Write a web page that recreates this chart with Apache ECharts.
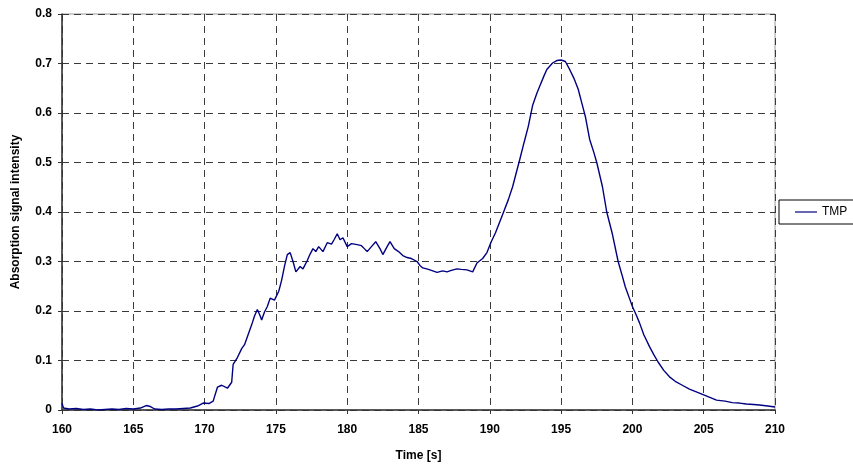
<!DOCTYPE html>
<html>
<head>
<meta charset="utf-8">
<script src="https://cdn.jsdelivr.net/npm/echarts@6/dist/echarts.min.js"></script>
<style>html,body{margin:0;padding:0;background:#fff;}#c{width:853px;height:466px;}</style>
</head>
<body>
<div id="c"></div>
<script>
var seriesName = 'TMP';
var xTicks = [160, 165, 170, 175, 180, 185, 190, 195, 200, 205, 210];
var yTicks = [0, 0.1, 0.2, 0.3, 0.4, 0.5, 0.6, 0.7, 0.8];
var times = [160.0,160.1,160.5,161.0,161.5,162.0,162.5,163.0,163.5,164.0,164.5,165.0,165.5,165.9,166.2,166.5,167.0,167.5,168.0,168.5,169.0,169.5,169.9,170.3,170.6,170.9,171.2,171.6,171.9,172.0,172.3,172.6,172.8,173.0,173.3,173.5,173.7,173.9,174.0,174.2,174.4,174.6,174.9,175.2,175.4,175.6,175.8,176.0,176.2,176.4,176.7,176.9,177.2,177.4,177.6,177.8,178.0,178.3,178.6,178.9,179.1,179.3,179.5,179.7,180.0,180.3,180.7,181.0,181.2,181.4,181.7,182.0,182.3,182.5,182.8,183.0,183.3,183.6,183.9,184.2,184.5,184.9,185.1,185.3,185.7,186.0,186.3,186.7,187.0,187.3,187.7,188.0,188.4,188.8,189.1,189.5,189.8,190.1,190.4,190.9,191.3,191.6,192.1,192.4,192.7,193.0,193.3,193.5,193.8,194.0,194.4,194.7,195.0,195.3,195.6,195.9,196.2,196.5,196.7,197.0,197.3,197.5,197.9,198.2,198.6,199.0,199.3,199.5,199.8,200.0,200.3,200.5,200.8,201.2,201.5,201.8,202.2,202.6,203.0,203.5,204.0,204.7,205.3,205.9,206.5,207.0,207.5,208.0,208.5,208.9,209.5,210.0];
var values = [0.014,0.004,0.002,0.003,0.001,0.002,0.000,0.001,0.002,0.001,0.003,0.002,0.004,0.009,0.007,0.002,0.001,0.002,0.002,0.003,0.004,0.008,0.014,0.013,0.018,0.046,0.050,0.044,0.056,0.092,0.106,0.124,0.132,0.148,0.172,0.190,0.203,0.190,0.182,0.198,0.209,0.226,0.222,0.240,0.262,0.290,0.314,0.318,0.300,0.279,0.290,0.285,0.302,0.315,0.326,0.320,0.330,0.320,0.338,0.335,0.345,0.356,0.344,0.348,0.330,0.336,0.334,0.332,0.326,0.320,0.330,0.340,0.326,0.314,0.330,0.340,0.326,0.320,0.312,0.308,0.306,0.300,0.292,0.287,0.284,0.281,0.278,0.281,0.279,0.282,0.285,0.284,0.283,0.279,0.297,0.306,0.318,0.340,0.358,0.395,0.425,0.451,0.506,0.540,0.573,0.615,0.640,0.654,0.675,0.688,0.701,0.706,0.707,0.704,0.688,0.670,0.648,0.615,0.593,0.547,0.520,0.500,0.451,0.400,0.355,0.300,0.270,0.249,0.225,0.209,0.190,0.176,0.152,0.128,0.112,0.097,0.080,0.067,0.058,0.050,0.042,0.034,0.027,0.020,0.018,0.015,0.014,0.012,0.011,0.010,0.008,0.006];

var data = times.map(function(t, i){ return [t, values[i]]; });
var chart = echarts.init(document.getElementById('c'), null, {renderer: 'canvas'});
var font = 'Liberation Sans, Arial, sans-serif';
chart.setOption({
  animation: false,
  backgroundColor: '#fff',
  grid: {left: 62, right: 78, top: 14, bottom: 56, show: true, borderColor: '#9a9a9a', borderWidth: 1,
    containLabel: false, outerBoundsMode: 'none'},
  legend: {
    orient: 'vertical', left: 779, top: 200, width: 72,
    borderColor: '#000', borderWidth: 1, padding: [6, 8, 6, 16],
    icon: 'rect', itemWidth: 22, itemHeight: 1.2, itemGap: 0,
    textStyle: {fontFamily: font, fontSize: 12, color: '#000'},
    data: [seriesName]
  },
  xAxis: {
    type: 'value', min: xTicks[0], max: xTicks[xTicks.length-1], interval: 5,
    name: 'Time [s]', nameLocation: 'middle', nameGap: 40,
    nameTextStyle: {fontFamily: font, fontWeight: 'bold', fontSize: 12, color: '#000'},
    axisLine: {onZero: false, lineStyle: {color: '#333', width: 1.5}},
    axisTick: {show: true, length: 4, lineStyle: {color: '#333'}},
    axisLabel: {fontFamily: font, fontWeight: 'bold', fontSize: 12, color: '#000', margin: 14},
    splitLine: {show: true, lineStyle: {color: '#3a3a3a', type: [7, 5], width: 1}}
  },
  yAxis: {
    type: 'value', min: yTicks[0], max: yTicks[yTicks.length-1], interval: 0.1,
    name: 'Absorption signal intensity', nameLocation: 'middle', nameGap: 40, nameRotate: 90,
    nameTextStyle: {fontFamily: font, fontWeight: 'bold', fontSize: 12, color: '#000'},
    axisLine: {show: true, lineStyle: {color: '#333', width: 1.5}},
    axisTick: {show: true, length: 4, lineStyle: {color: '#333'}},
    axisLabel: {fontFamily: font, fontWeight: 'bold', fontSize: 12, color: '#000', margin: 10,
      formatter: function(v){ return v === 0 ? '0' : v.toFixed(1); }},
    splitLine: {show: true, lineStyle: {color: '#3a3a3a', type: [7, 5], width: 1}}
  },
  series: [{
    name: seriesName, type: 'line', data: data, symbol: 'none', showSymbol: false,
    lineStyle: {color: '#000080', width: 1.4}, itemStyle: {color: '#000080'}
  }]
});
</script>
</body>
</html>
